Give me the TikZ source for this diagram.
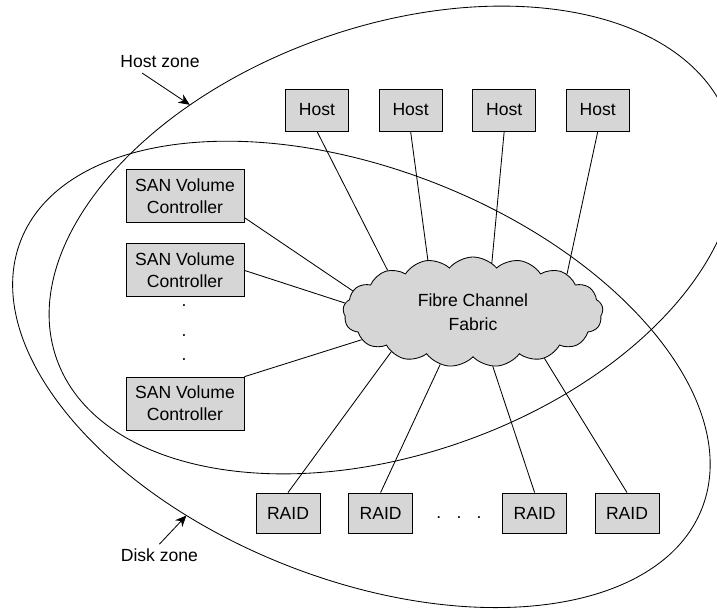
\documentclass[tikz,border=0pt]{standalone}
\usepackage{fontspec}
\setmainfont{Liberation Sans}
\usetikzlibrary{arrows.meta,positioning,calc,shapes.symbols}
\definecolor{boxgray}{RGB}{214,214,214}

\begin{document}
\begin{tikzpicture}[
  >={Stealth[length=8pt,width=7pt]},
  font=\fontsize{12.5}{15.5}\selectfont,
  box/.style={draw,fill=boxgray,line width=0.6pt,align=center,inner sep=1pt},
  host/.style={box,minimum width=1.575cm,minimum height=1.05cm},
  svc/.style={box,minimum width=2.95cm,minimum height=1.325cm},
  raid/.style={box,minimum width=1.6cm,minimum height=1.0cm},
  fabric/.style={cloud,draw,fill=boxgray,line width=0.6pt,align=center,
    cloud puffs=17,cloud puff arc=100,aspect=2.4,
    minimum width=6.5cm,minimum height=2.75cm,inner sep=0pt,
    font=\fontsize{12.5}{17}\selectfont},
  zone/.style={line width=0.6pt},
  link/.style={line width=0.6pt},
  zarr/.style={->,line width=0.6pt},
  dotmark/.style={inner sep=0pt}
]
\useasboundingbox (-11.825,-7.425) rectangle (6.1,7.8);
\draw[zone,rotate around={19.5:(-2.01,1.8)}] (-2.01,1.8) ellipse (8.91 and 5.34);
\draw[zone,rotate around={-21.5:(-2.79,-1.56)}] (-2.79,-1.56) ellipse (9.15 and 5.125);
\node[fabric] (FC) at (0,0) {Fibre Channel\\Fabric};
\node[host] (H1) at (-3.9,5.05) {Host};
\node[host] (H2) at (-1.56,5.05) {Host};
\node[host] (H3) at (0.78,5.05) {Host};
\node[host] (H4) at (3.12,5.05) {Host};
\node[svc] (S1) at (-7.2,2.9) {SAN Volume\\Controller};
\node[svc] (S2) at (-7.2,1.04) {SAN Volume\\Controller};
\node[svc] (S3) at (-7.2,-2.29) {SAN Volume\\Controller};
\node[dotmark] (V1) at (-7.225,0.16) {.};
\node[dotmark] (V2) at (-7.225,-0.59) {.};
\node[dotmark] (V3) at (-7.225,-1.2) {.};
\node[raid] (R1) at (-4.625,-5.025) {RAID};
\node[raid] (R2) at (-2.31,-5.025) {RAID};
\node[raid] (R3) at (1.54,-5.025) {RAID};
\node[raid] (R4) at (3.85,-5.025) {RAID};
\node[dotmark] (RD) at (-0.35,-5.15) {.\hspace{0.38cm}.\hspace{0.38cm}.};
\draw[link] (H1.south) -- (FC.154);
\draw[link] (H2.south) -- (FC.131);
\draw[link] (H3.south) -- (FC.69);
\draw[link] (H4.south) -- (FC.22);
\draw[link] (S1.-20) -- (FC.170);
\draw[link] (S2.east) -- (FC.176);
\draw[link] (S3.north east) -- (FC.194);
\draw[link] (R1.north) -- (FC.206);
\draw[link] (R2.north) -- (FC.238);
\draw[link] (R3.north) -- (FC.290);
\draw[link] (R4.north) -- (FC.327);
\node (HZ) at (-7.825,6.25) {Host zone};
\coordinate (HZT) at (-7.08,5.18);
\draw[zarr] ($(HZ.south west)!0.3!(HZ.south east)$) -- (HZT);
\node (DZ) at (-7.84,-6.09) {Disk zone};
\coordinate (DZT) at (-7.165,-5.0875);
\draw[zarr] (DZ.north) -- (DZT);
\end{tikzpicture}
\end{document}
